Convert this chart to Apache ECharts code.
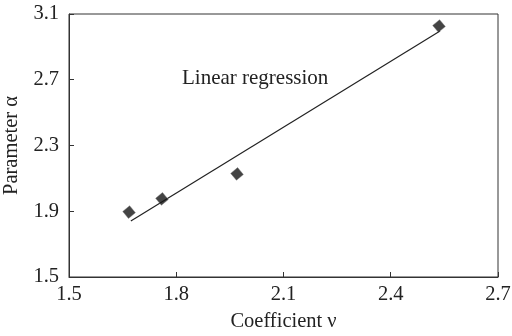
<!DOCTYPE html>
<html><head><meta charset="utf-8">
<script src="https://cdn.jsdelivr.net/npm/echarts@6/dist/echarts.min.js"></script>
<style>html,body{margin:0;padding:0;background:#fff}#c{width:512px;height:336px}</style>
</head><body><div id="c"></div>
<script>
var pointX = [1.668, 1.76, 1.97, 2.535];
var pointY = [1.895, 1.975, 2.127, 3.027];
var regX = [1.673, 2.538];
var regY = [1.841, 2.997];
var xTicks = [1.5, 1.8, 2.1, 2.4, 2.7];
var yTicks = [1.5, 1.9, 2.3, 2.7, 3.1];
var xName = 'Coefficient ν';
var yName = 'Parameter α';
var annotation = 'Linear regression';

var FONT = '"Liberation Serif", "DejaVu Serif", serif';
var FS = 20.5;
var chart = echarts.init(document.getElementById('c'));
function pairs(a, b) { return a.map(function (v, i) { return [v, b[i]]; }); }
chart.setOption({
  animation: false,
  backgroundColor: '#fff',
  grid: { left: 69, right: 14, top: 14, bottom: 59, containLabel: false, outerBoundsMode: 'none', show: true, borderColor: '#333', borderWidth: 1, backgroundColor: 'transparent' },
  xAxis: {
    type: 'value', min: xTicks[0], max: xTicks[xTicks.length - 1], interval: 0.3,
    name: xName, nameLocation: 'middle', nameGap: 34,
    nameTextStyle: { fontFamily: FONT, fontSize: FS, color: '#222' },
    axisLine: { show: true, lineStyle: { color: '#333', width: 1 } },
    axisTick: { show: true, inside: true, length: 5, lineStyle: { color: '#333' } },
    axisLabel: { fontFamily: FONT, fontSize: FS, color: '#222', margin: 7, formatter: function (v) { return v.toFixed(1); } },
    splitLine: { show: false }
  },
  yAxis: {
    type: 'value', min: yTicks[0], max: yTicks[yTicks.length - 1], interval: 0.4,
    name: yName, nameLocation: 'middle', nameGap: 41, nameRotate: 90,
    nameTextStyle: { fontFamily: FONT, fontSize: FS, color: '#222' },
    axisLine: { show: true, lineStyle: { color: '#333', width: 1 } },
    axisTick: { show: true, inside: true, length: 5, lineStyle: { color: '#333' } },
    axisLabel: { fontFamily: FONT, fontSize: FS, color: '#222', margin: 10, formatter: function (v) { return v.toFixed(1); } },
    splitLine: { show: false }
  },
  graphic: [{
    type: 'text', left: 182, top: 68,
    style: { text: annotation, font: '21px ' + FONT, fill: '#222' }
  }],
  series: [{
    type: 'line', data: pairs(regX, regY), symbol: 'none',
    lineStyle: { color: '#222', width: 1.2 }, z: 2
  }, {
    type: 'scatter', data: pairs(pointX, pointY), symbol: 'rect', symbolSize: 9, symbolRotate: 40,
    itemStyle: { color: '#151515', borderColor: '#777', borderWidth: 0.5 }, z: 3
  }]
});
</script></body></html>
